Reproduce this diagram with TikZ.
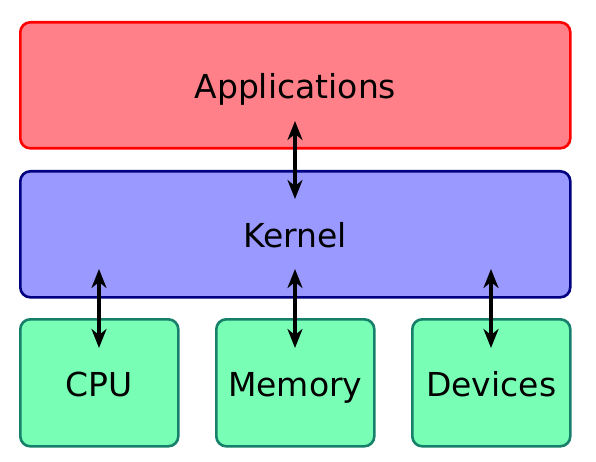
\documentclass[tikz,border=0pt]{standalone}
\usepackage{fontspec}
\setmainfont{DejaVu Sans}
\usetikzlibrary{arrows.meta}
\definecolor{appfill}{RGB}{255,128,136}
\definecolor{appdraw}{RGB}{255,0,0}
\definecolor{kerfill}{RGB}{153,153,255}
\definecolor{kerdraw}{RGB}{0,0,128}
\definecolor{hwfill}{RGB}{121,255,181}
\definecolor{hwdraw}{RGB}{22,128,106}
\tikzset{
  big/.style={font=\fontsize{33}{40}\selectfont, text height=33pt, text depth=6pt, inner sep=0pt},
  layer/.style={rounded corners=10pt, line width=2.6pt, minimum width=550pt, minimum height=126pt, anchor=north west, inner sep=0pt},
  hw/.style={big, rounded corners=10pt, line width=2.6pt, draw=hwdraw, fill=hwfill, minimum width=158pt, minimum height=127pt, anchor=north west},
  link/.style={line width=4pt, >={Stealth[length=19pt,width=15pt,inset=6pt]}, <->}
}
\begin{document}
\begin{tikzpicture}[x=1pt,y=-1pt]
\useasboundingbox (0,0) rectangle (596,462);
\node[layer, draw=appdraw, fill=appfill] (app) at (19,21) {};
\node[big] at (app.center) (apptext) {Applications};
\node[layer, draw=kerdraw, fill=kerfill] (ker) at (19,170) {};
\node[big] at (ker.center) (kertext) {Kernel};
\node[hw] (cpu) at (19,318) {CPU};
\node[hw] (mem) at (215,318) {Memory};
\node[hw] (dev) at (411,318) {Devices};
\coordinate (a1) at (295,121);
\coordinate (a2) at (295,199);
\coordinate (c1) at (99,269);
\coordinate (c2) at (99,348);
\coordinate (m1) at (295,269);
\coordinate (m2) at (295,348);
\coordinate (d1) at (491,269);
\coordinate (d2) at (491,348);
\draw[link] (a1) -- (a2);
\draw[link] (c1) -- (c2);
\draw[link] (m1) -- (m2);
\draw[link] (d1) -- (d2);
\end{tikzpicture}
\end{document}
